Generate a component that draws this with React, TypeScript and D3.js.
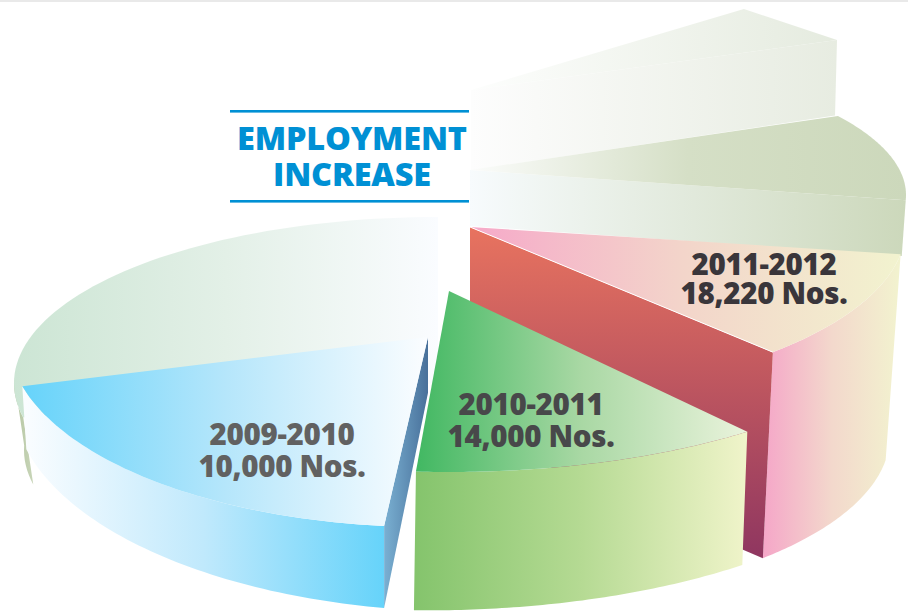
import * as d3 from 'd3';

// what the picture says
const periods = ['2009-2010', '2010-2011', '2011-2012'];
const employment = [10000, 14000, 18220];
const titleLines = ['EMPLOYMENT', 'INCREASE'];

// slices clockwise from the rear one; sweep and height
const sliceNames = ['rear', 'olive', 'pink', 'green', 'blue', 'back'];
const sliceSweep = [21, 38, 42, 48, 72, 103];
const sliceHeight = [9700, 8070, 18220, 14000, 10000, 8890];
// painter's order, rear to front
const drawOrder = ['rear', 'olive', 'pink', 'back', 'blue', 'green'];

const rad = (deg: number) => (deg * Math.PI) / 180;
const depth = d3.scaleLinear().domain([10000, 14000, 18220]).range([82, 136, 206]);

const pie = d3.pie<number>().sort(null).value((d) => d).startAngle(rad(36)).endAngle(2 * Math.PI);

interface Look {
  apex: [number, number];
  centre: [number, number];
  rx: number;
  ry: number;
  trim: [number, number];
  lean: [number, number];
  taper: [number, number];
  chord?: boolean;
  wallAt?: 'start' | 'end';
  apexDrop?: number;
  rim?: boolean;
  rimEnd?: number;
  seam?: boolean;
  top: string[];
  side?: string[];
  wall?: string[];
  wallVertical?: boolean;
}

const looks: Record<string, Look> = {
  rear: { apex: [471, 90], centre: [517, 109.3], rx: 386, ry: 124, trim: [0, 1], lean: [-2, -2], taper: [1, 0.97], chord: true, wallAt: 'end', apexDrop: 1.03, top: ['#fdfefd', '#e5ebdf'], wall: ['#fdfdfd', '#e7ece1'] },
  olive: { apex: [470, 170], centre: [466, 195], rx: 440, ry: 148, trim: [0.7, 3], lean: [-4, -4], taper: [1, 1], wallAt: 'end', top: ['#fbfcfb', '#d5dfc6', '#ccd8bb'], wall: ['#f7fbfd', '#ccd8bb'] },
  pink: { apex: [470, 227], centre: [470, 227], rx: 436, ry: 174, trim: [4, 1], lean: [-15, -10], taper: [1, 1], wallAt: 'end', seam: true, rim: true, top: ['#f6a9c9', '#f3d5ca', '#f2f3cf'], side: ['#f5a6c8', '#f3d8cc', '#f2f3cf'], wall: ['#e8735f', '#8f3660'], wallVertical: true },
  green: { apex: [449, 291], centre: [449, 291], rx: 474, ry: 181, trim: [4, 1], lean: [-5, -2], taper: [0.98, 1.02], rim: true, top: ['#41b862', '#a9d8a4', '#eaf3dc'], side: ['#84c46c', '#b5da93', '#f0f4ca'] },
  blue: { apex: [428, 337], centre: [428, 337], rx: 420, ry: 190, trim: [1, 2], lean: [0, 4], taper: [1, 0.77], wallAt: 'start', apexDrop: 0.68, rim: true, top: ['#66d3fa', '#b5e6fb', '#fbfdff'], side: ['#fbfdff', '#c0e9fc', '#66d3fa'], wall: ['#7ab0d2', '#48709a'] },
  back: { apex: [438, 383], centre: [438, 383], rx: 424, ry: 166, trim: [1, 0], lean: [10, 10], taper: [1, 1], rim: true, rimEnd: 272, top: ['#cce5d4', '#e3f0e7', '#fafcff'], side: ['#b4c5a2', '#c8d5b8'] },
};

const toPath = d3.line<[number, number]>().curve(d3.curveLinear);

function Slice({ name, arc, height }: { name: string; arc: d3.PieArcDatum<number>; height: number }) {
  const s = looks[name];
  const a0 = arc.startAngle + rad(s.trim[0]);
  const a1 = arc.endAngle - rad(s.trim[1]);
  const rimAt = (t: number): [number, number] => [s.centre[0] + s.rx * Math.sin(t), s.centre[1] - s.ry * Math.cos(t)];
  const share = d3.scaleLinear().domain([a0, a1]).range([0, 1]);
  const leanAt = (t: number) => d3.interpolateNumber(s.lean[0], s.lean[1])(share(t));
  const dropAt = (t: number) => height * d3.interpolateNumber(s.taper[0], s.taper[1])(share(t));
  const sweep = s.chord ? [a0, a1] : d3.range(0, 61).map((i) => a0 + ((a1 - a0) * i) / 60);
  const rimSweep = s.rimEnd ? sweep.filter((t) => t <= rad(s.rimEnd as number)) : sweep;

  const face = toPath([s.apex, ...sweep.map(rimAt)]) + 'Z';
  const outer = d3.area<number>()
    .x0((t) => rimAt(t)[0]).y0((t) => rimAt(t)[1])
    .x1((t) => rimAt(t)[0] + leanAt(t)).y1((t) => rimAt(t)[1] + dropAt(t))(rimSweep) as string;

  let radial: string | null = null;
  if (s.wallAt) {
    const t = s.wallAt === 'end' ? a1 : a0;
    const [x, y] = rimAt(t);
    radial = toPath([s.apex, [x, y], [x + leanAt(t), y + dropAt(t)], [s.apex[0], s.apex[1] + height * (s.apexDrop ?? 1)]]) + 'Z';
  }
  return (
    <g>
      {s.rim && <path d={outer} fill={`url(#${name}-side)`} />}
      {radial && <path d={radial} fill={`url(#${name}-wall)`} />}
      <path d={face} fill={`url(#${name}-top)`} />
      {s.seam && <path d={toPath([s.apex, rimAt(a1)]) as string} stroke="#fff" strokeWidth={1} fill="none" />}
    </g>
  );
}

function Ramp({ id, stops, vertical }: { id: string; stops?: string[]; vertical?: boolean }) {
  if (!stops) return null;
  return (
    <linearGradient id={id} x1="0" y1="0" x2={vertical ? 0 : 1} y2={vertical ? 1 : 0}>
      {stops.map((c, i) => <stop key={i} offset={i / (stops.length - 1)} stopColor={c} />)}
    </linearGradient>
  );
}

const nos = d3.format(',');
const labelSpots = [
  { x: 282, y: 445, fill: '#616161' },
  { x: 531, y: 415, fill: '#48484a' },
  { x: 764, y: 275, fill: '#3a363b' },
];
const labelFont = '"Open Sans", "Noto Sans", sans-serif';

export default function App() {
  const arcs = pie(sliceSweep);
  return (
    <svg width={908} height={616} viewBox="0 0 908 616" style={{ position: 'fixed', left: 0, top: 0, display: 'block', background: '#fff' }}>
      <defs>
        {sliceNames.map((n) => (
          <g key={n}>
            <Ramp id={`${n}-top`} stops={looks[n].top} />
            <Ramp id={`${n}-side`} stops={looks[n].side} />
            <Ramp id={`${n}-wall`} stops={looks[n].wall} vertical={looks[n].wallVertical} />
          </g>
        ))}
      </defs>
      <rect width={908} height={2} fill="#e9e9e9" />
      {drawOrder.map((n) => {
        const i = sliceNames.indexOf(n);
        return <Slice key={n} name={n} arc={arcs[i]} height={depth(sliceHeight[i])} />;
      })}

      <rect x={230} y={110} width={239} height={2.6} fill="#0090d4" />
      <rect x={230} y={200} width={239} height={2.6} fill="#0090d4" />
      {titleLines.map((t, i) => (
        <text key={t} x={352} y={150 + i * 36} textAnchor="middle" fontFamily={labelFont} fontWeight={800} fontSize={32.5} letterSpacing={-0.2} fill="#0090d4">{t}</text>
      ))}

      {periods.map((p, i) => (
        <text key={p} textAnchor="middle" fontFamily={labelFont} fontWeight={800} fontSize={29.5} letterSpacing={-0.3} fill={labelSpots[i].fill}>
          <tspan x={labelSpots[i].x} y={labelSpots[i].y}>{p}</tspan>
          <tspan x={labelSpots[i].x} y={labelSpots[i].y + (i === 2 ? 29 : 32)}>{`${nos(employment[i])} Nos.`}</tspan>
        </text>
      ))}
    </svg>
  );
}
